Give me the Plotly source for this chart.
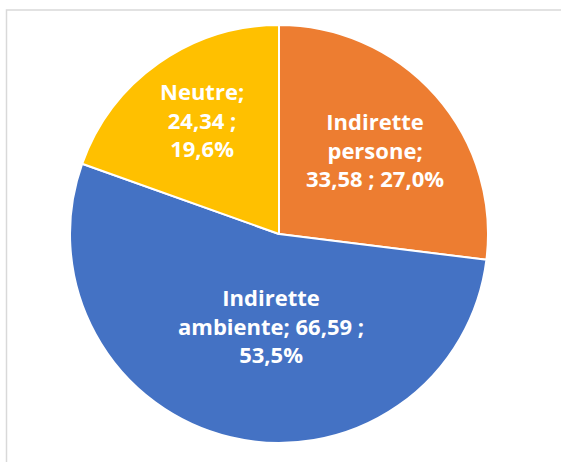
import math
import plotly.graph_objects as go

categories = ["Indirette persone", "Indirette ambiente", "Neutre"]
values = [33.58, 66.59, 24.34]
percents = [27.0, 53.5, 19.6]
colors = ["#ED7D31", "#4472C4", "#FFC000"]

# label layout (style): radial fraction and angular nudge (degrees) per slice
label_r = [0.61, 0.437, 0.66]
label_dang = [0.0, -8.5, 1.5]


def fmt(v, d):
    return f"{v:.{d}f}".replace(".", ",")


texts = [
    f"Indirette<br>persone;<br>{fmt(values[0], 2)} ; {fmt(percents[0], 1)}%",
    f"Indirette<br>ambiente; {fmt(values[1], 2)} ;<br>{fmt(percents[1], 1)}%",
    f"Neutre;<br>{fmt(values[2], 2)} ;<br>{fmt(percents[2], 1)}%",
]

fig = go.Figure(
    go.Pie(
        labels=categories,
        values=values,
        textinfo="none",
        sort=False,
        direction="clockwise",
        rotation=0,
        marker=dict(colors=colors, line=dict(color="white", width=2)),
        hoverinfo="label+value+percent",
        showlegend=False,
    )
)

W, H = 561, 462
ml, mr, mt, mb = 70, 73, 25, 19
pw, ph = W - ml - mr, H - mt - mb
R = min(pw, ph) / 2


def px_x(x):
    return (x - ml) / pw


def px_y(y):
    return (H - mb - y) / ph


total = sum(values)
annotations = []
cum = 0.0
for v, t, rf, da in zip(values, texts, label_r, label_dang):
    mid = (cum + v / 2) / total * 360 + da
    cum += v
    a = math.radians(mid)
    x = 0.5 + rf * R * math.sin(a) / pw
    y = 0.5 + rf * R * math.cos(a) / ph
    annotations.append(
        dict(
            x=x, y=y, xref="paper", yref="paper", text=t, showarrow=False,
            xanchor="center", yanchor="middle", align="center",
            font=dict(family="Open Sans", size=22, color="white", weight="bold"),
        )
    )

fig.update_layout(
    width=W,
    height=H,
    margin=dict(l=ml, r=mr, t=mt, b=mb),
    paper_bgcolor="white",
    plot_bgcolor="white",
    separators=",.",
    annotations=annotations,
    shapes=[
        dict(
            type="rect",
            xref="paper",
            yref="paper",
            x0=px_x(6.5),
            x1=px_x(580),
            y0=px_y(480),
            y1=px_y(10),
            line=dict(color="#D9D9D9", width=1.5),
            fillcolor="rgba(0,0,0,0)",
            layer="below",
        )
    ],
)

fig.write_html(
    "out.html",
    config={"displayModeBar": False},
    post_script="document.body.style.margin='0px';",
)
